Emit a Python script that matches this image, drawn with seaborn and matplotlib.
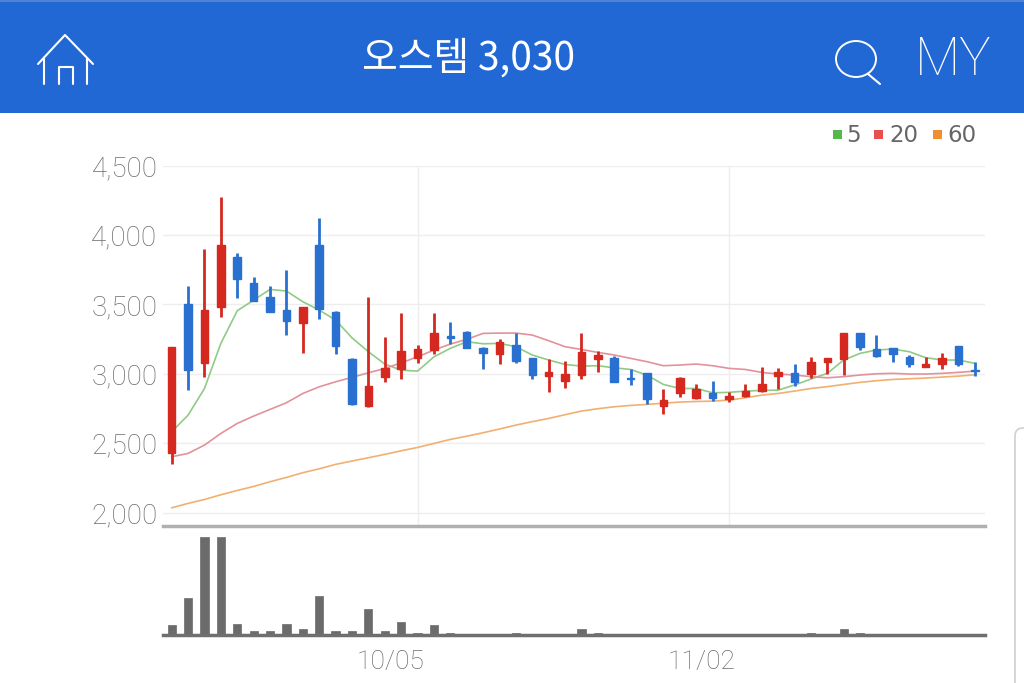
# Stock chart screen: candles with moving averages and volume
import numpy as np
import pandas as pd
import matplotlib.pyplot as plt
import seaborn as sns
from matplotlib.patches import Rectangle, Ellipse, FancyBboxPatch
from matplotlib.transforms import ScaledTranslation

title_text = "오스템 3,030"
price_ticks = [2000, 2500, 3000, 3500, 4000, 4500]
date_ticks = [15, 34]
date_labels = ["10/05", "11/02"]
ma_names = ["5", "20", "60"]

open_price = [2430, 3500, 3079, 3483, 3843, 3656, 3550, 3459, 3367, 3925,
              3447, 3103, 2769, 2974, 3034, 3115, 3171, 3271, 3303, 3187,
              3142, 3207, 3111, 2983, 2950, 2990, 3106, 3115, 2971, 3003,
              2767, 2858, 2827, 2863, 2815, 2839, 2875, 2986, 3007, 2995,
              3087, 3106, 3291, 3176, 3183, 3123, 3048, 3070, 3200, 3027]
close_price = [3190, 3026, 3459, 3925, 3682, 3526, 3442, 3382, 3478, 3464,
               3202, 2781, 2913, 3043, 3163, 3175, 3291, 3257, 3183, 3151,
               3226, 3094, 2990, 3010, 2998, 3159, 3135, 2942, 2959, 2815,
               2810, 2971, 2887, 2827, 2842, 2878, 2926, 3010, 2943, 3082,
               3116, 3291, 3195, 3128, 3142, 3067, 3070, 3116, 3067, 3020]
high_price = [3190, 3632, 3896, 4271, 3872, 3694, 3632, 3747, 3478, 4124,
              3454, 3110, 3550, 3267, 3435, 3207, 3435, 3375, 3310, 3195,
              3248, 3291, 3115, 3103, 3094, 3291, 3163, 3127, 3034, 3007,
              2887, 2979, 2926, 2947, 2871, 2926, 3051, 3039, 3070, 3123,
              3116, 3291, 3291, 3279, 3183, 3135, 3123, 3147, 3200, 3082]
low_price = [2350, 2882, 2974, 3411, 3548, 3526, 3442, 3276, 3151, 3392,
             3142, 2774, 2762, 2940, 2962, 3074, 3142, 3214, 3183, 3034,
             3067, 3079, 2962, 2868, 2899, 2962, 3015, 2942, 2921, 2784,
             2710, 2834, 2815, 2806, 2796, 2834, 2870, 2890, 2914, 2967,
             2995, 2991, 3171, 3123, 3087, 3046, 3048, 3034, 3058, 2983]
ma5 = [2582, 2702, 2894, 3219, 3454, 3531, 3608, 3596, 3519, 3459,
       3387, 3259, 3159, 3070, 3026, 3019, 3122, 3183, 3231, 3216,
       3219, 3195, 3135, 3099, 3067, 3055, 3058, 3043, 3031, 2990,
       2923, 2894, 2894, 2863, 2866, 2875, 2880, 2882, 2919, 2962,
       3003, 3099, 3147, 3171, 3178, 3159, 3116, 3099, 3099, 3075]
ma20 = [2402, 2426, 2486, 2570, 2642, 2695, 2743, 2791, 2858, 2906,
        2942, 2974, 3007, 3038, 3079, 3122, 3171, 3214, 3248, 3291,
        3293, 3293, 3279, 3238, 3195, 3175, 3154, 3135, 3111, 3087,
        3058, 3063, 3070, 3058, 3039, 3031, 3010, 2998, 2991, 2979,
        2971, 2979, 2991, 3000, 3003, 2998, 2998, 3003, 3010, 3019]
ma60 = [2034, 2066, 2094, 2128, 2159, 2188, 2222, 2253, 2287, 2315,
        2347, 2371, 2395, 2419, 2445, 2469, 2498, 2527, 2550, 2575,
        2602, 2630, 2655, 2678, 2705, 2731, 2748, 2762, 2772, 2779,
        2788, 2796, 2800, 2803, 2810, 2827, 2846, 2858, 2875, 2894,
        2907, 2923, 2938, 2950, 2959, 2964, 2969, 2976, 2983, 2993]
volume = [29, 112, 295, 295, 33, 12, 12, 33, 17, 116,
          12, 12, 77, 12, 38, 7, 29, 7, 0, 0,
          0, 7, 0, 0, 0, 17, 7, 0, 0, 0,
          0, 0, 0, 0, 0, 0, 0, 0, 0, 7,
          0, 17, 7, 0, 0, 0, 0, 0, 0, 0]

RED = "#d5281f"
BLUE = "#2a70d0"
HEADER = "#2268d4"
TEXT_GRAY = "#6c6c6c"
MA_COLORS = ["#8fcb85", "#e2929a", "#f0b070"]
THIN_FONT = ["Roboto", "DejaVu Sans"]

sns.set_style("white")
plt.rcParams["font.family"] = ["Noto Sans CJK KR", "DejaVu Sans"]

W, H = 1024, 683
fig = plt.figure(figsize=(W / 100, H / 100), dpi=100)


def px_axes(left, top, right, bottom):
    return fig.add_axes([left / W, 1 - bottom / H, (right - left) / W, (bottom - top) / H])


# Graph 1: price
ax1 = px_axes(163, 165.6, 985, 526)
days = np.arange(len(open_price))
prices = pd.DataFrame({"day": days, "open": open_price, "close": close_price,
                       "high": high_price, "low": low_price})
colors = [RED if c > o else BLUE for o, c in zip(prices["open"], prices["close"])]

ax1.set_xlim(-0.53, 49.62)
ax1.set_ylim(1903, 4500)
ax1.set_axisbelow(True)
ax1.set_yticks(price_ticks)
ax1.set_yticklabels([f"{p:,}" for p in price_ticks], family=THIN_FONT, fontweight="light")
ax1.set_xticks(date_ticks)
ax1.set_xticklabels([])
ax1.grid(color="#eeeeee", linewidth=1)
ax1.tick_params(axis="y", length=0, pad=4, labelsize=20, labelcolor=TEXT_GRAY)
ax1.tick_params(axis="x", length=0)
for i in ["top", "left", "right"]:
    ax1.spines[i].set_visible(False)
ax1.spines["bottom"].set_color("#b0b0b0")
ax1.spines["bottom"].set_linewidth(2.5)

for values, name, color in zip([ma5, ma20, ma60], ma_names, MA_COLORS):
    sns.lineplot(x=days, y=values, color=color, linewidth=1.2, ax=ax1, label=name, legend=False, zorder=3)

ax1.vlines(prices["day"], prices["low"], prices["high"], colors=colors, linewidth=2, zorder=4)
ax1.bar(prices["day"], np.abs(prices["close"] - prices["open"]),
        bottom=np.minimum(prices["open"], prices["close"]), width=0.46,
        color=colors, edgecolor=colors, linewidth=1, zorder=5)
ax1.set_xlabel("")
ax1.set_ylabel("")

# Graph 2: volume
ax2 = px_axes(163, 537, 985, 635)
ax2.bar(days, volume, width=0.5, color="#6b6b6b", edgecolor="#6b6b6b", linewidth=0.5)
ax2.set_xlim(-0.53, 49.62)
ax2.set_ylim(0, 295)
ax2.set_yticks([])
ax2.set_xticks(date_ticks)
ax2.set_xticklabels(date_labels, family=THIN_FONT, fontweight="light")
ax2.tick_params(axis="x", length=7, width=1, color="#cccccc", pad=4, labelsize=19, labelcolor=TEXT_GRAY)
for i in ["top", "left", "right"]:
    ax2.spines[i].set_visible(False)
ax2.spines["bottom"].set_color("#6f6f6f")
ax2.spines["bottom"].set_linewidth(2.5)
ax2.patch.set_alpha(0)
# date labels sit to the left of their tick
for label in ax2.get_xticklabels():
    label.set_transform(label.get_transform() + ScaledTranslation(-0.27, 0, fig.dpi_scale_trans))

# Page furniture in pixel coordinates
ax0 = fig.add_axes([0, 0, 1, 1], zorder=10)
ax0.set_xlim(0, W)
ax0.set_ylim(H, 0)
ax0.axis("off")
ax0.patch.set_alpha(0)
ax0.add_patch(Rectangle((0, 0), W, 112.5, color=HEADER, lw=0))
ax0.add_patch(Rectangle((0, 0), W, 2, color="#4f82cf", lw=0))
ax0.text(468, 59, title_text, color="white", fontsize=28, ha="center", va="center")

# home icon
ax0.plot([38, 65, 93], [64, 35, 64], color="white", lw=1.5)
ax0.plot([44, 44], [59, 84], color="white", lw=1.5)
ax0.plot([87, 87], [59, 84], color="white", lw=1.5)
ax0.plot([59, 59, 73, 73], [84, 67, 67, 84], color="white", lw=1.5)

# search icon and MY
ax0.add_patch(Ellipse((856, 59), 40, 36, fill=False, ec="white", lw=1.4))
ax0.plot([868, 880], [74, 84], color="white", lw=1.5)
ax0.text(953, 60, "MY", color="white", fontsize=38, ha="center", va="center", fontweight="light", family=THIN_FONT)

# legend
for x, name, color, tx in zip([833, 874, 933], ma_names, ["#55b84a", "#e8504f", "#ef9030"], [853, 904, 962]):
    ax0.add_patch(Rectangle((x, 130), 9, 9, color=color, lw=0))
    ax0.text(tx, 135, name, color="#666666", fontsize=16.5, ha="center", va="center", family="DejaVu Sans")

# edge of the sheet at bottom right
ax0.add_patch(FancyBboxPatch((1015, 428), 40, 300, boxstyle="round,pad=0,rounding_size=8",
                             fc="white", ec="#d0d0d0", lw=1.2, clip_on=True))

fig.savefig("out.png", dpi=100)
